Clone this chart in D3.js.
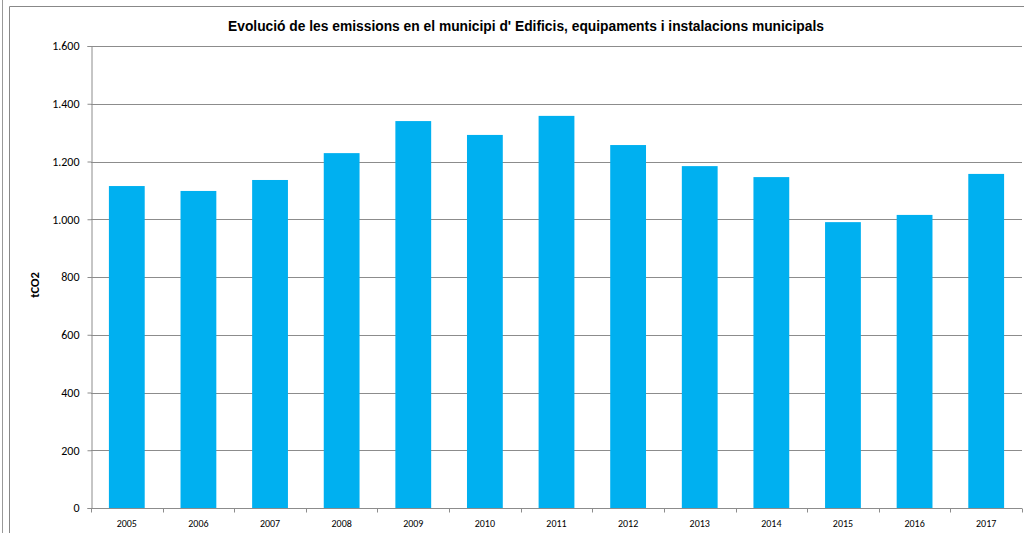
<!DOCTYPE html>
<html><head><meta charset="utf-8">
<script src="https://cdn.jsdelivr.net/npm/d3@7"></script>
<style>body{margin:0;background:#fff}svg{display:block}</style>
</head><body>
<script>
const years = ["2005","2006","2007","2008","2009","2010","2011","2012","2013","2014","2015","2016","2017"];
const emissions = [1115,1098,1136,1229,1340,1292,1358,1257,1184,1146,990,1015,1157];
const yTicks = [0,200,400,600,800,1000,1200,1400,1600];
const title = "Evolució de les emissions en el municipi d' Edificis, equipaments i instalacions municipals";
const yLabel = "tCO2";

(function(){
const W = 1024, H = 533;
const svg = d3.select("body").append("svg").attr("width", W).attr("height", H);

// outer frames
svg.append("line").attr("x1",2.5).attr("x2",2.5).attr("y1",0).attr("y2",H).attr("stroke","#999");
svg.append("path").attr("d",`M9.5,${H} V6.5 H${W}`).attr("fill","none").attr("stroke","#888");

const pLeft = 91, pRight = 1022, pTop = 46, pBottom = 508;
const x = d3.scaleBand().domain(years).range([pLeft, pRight]).paddingInner(0.5).paddingOuter(0.25);
const y = d3.scaleLinear().domain([0,1600]).range([pBottom, pTop]);

// gridlines
svg.append("g").selectAll("line").data(yTicks.filter(d=>d>0)).join("line")
  .attr("x1",pLeft).attr("x2",pRight)
  .attr("y1",d=>Math.round(y(d))+0.5).attr("y2",d=>Math.round(y(d))+0.5)
  .attr("stroke","#8c8c8c").attr("stroke-width",1);

// bars
svg.append("g").selectAll("rect").data(emissions).join("rect")
  .attr("x",(d,i)=>x(years[i])).attr("width",x.bandwidth())
  .attr("y",d=>y(d)).attr("height",d=>pBottom - y(d))
  .attr("fill","#00B0F0");

// y axis
const yAxis = d3.axisLeft(y).tickValues(yTicks).tickSize(4).tickPadding(8)
  .tickFormat(d=>d3.format(",")(d).replace(/,/g,"."));
const gy = svg.append("g").attr("transform",`translate(${pLeft+0.5},0)`).call(yAxis);
gy.select(".domain").attr("stroke","#8c8c8c");
gy.selectAll(".tick line").attr("stroke","#8c8c8c");
gy.selectAll(".tick text").attr("font-family","Carlito, Lato, 'Open Sans', sans-serif").attr("font-size","12px").attr("fill","#000");

// x axis
const gx = svg.append("g").attr("transform",`translate(0,${pBottom+0.5})`);
gx.append("line").attr("x1",pLeft).attr("x2",pRight).attr("stroke","#8c8c8c");
const bounds = d3.range(years.length+1).map(i => pLeft + i*(pRight-pLeft)/years.length);
gx.selectAll(".tk").data(bounds).join("line").attr("class","tk")
  .attr("x1",d=>Math.round(d)+0.5).attr("x2",d=>Math.round(d)+0.5).attr("y1",0).attr("y2",4).attr("stroke","#8c8c8c");
gx.selectAll("text").data(years).join("text")
  .attr("x",d=>x(d)+x.bandwidth()/2).attr("y",18)
  .attr("text-anchor","middle")
  .attr("font-family","Carlito, Lato, 'Open Sans', sans-serif").attr("font-size","10px").attr("fill","#000")
  .text(d=>d);

// title
svg.append("text").attr("x",526).attr("y",31).attr("text-anchor","middle")
  .attr("font-family","'Liberation Sans', Arial, sans-serif").attr("font-weight","bold").attr("font-size","13.8px")
  .text(title);

// y label
svg.append("text").attr("transform","translate(39,285) rotate(-90)").attr("text-anchor","middle")
  .attr("font-family","Carlito, Lato, 'Open Sans', sans-serif").attr("font-weight","bold").attr("font-size","12.5px")
  .text(yLabel);
})();
</script>
</body></html>
